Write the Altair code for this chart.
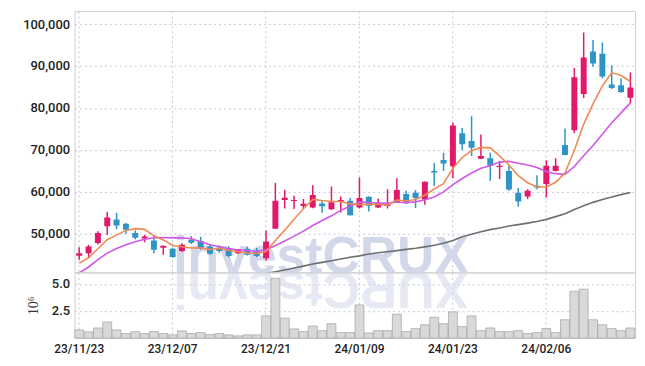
import altair as alt
import pandas as pd
import numpy as np

dates = ["23/11/23","23/11/24","23/11/27","23/11/28","23/11/29","23/11/30",
 "23/12/01","23/12/04","23/12/05","23/12/06","23/12/07",
 "23/12/08","23/12/11","23/12/12","23/12/13","23/12/14","23/12/15","23/12/18","23/12/19","23/12/20","23/12/21",
 "23/12/22","23/12/26","23/12/27","23/12/28","24/01/02","24/01/03","24/01/04","24/01/05","24/01/08","24/01/09",
 "24/01/10","24/01/11","24/01/12","24/01/15","24/01/16","24/01/17","24/01/18","24/01/19","24/01/22","24/01/23",
 "24/01/24","24/01/25","24/01/26","24/01/29","24/01/30","24/01/31","24/02/01","24/02/02","24/02/05","24/02/06",
 "24/02/07","24/02/08","24/02/13","24/02/14","24/02/15","24/02/16","24/02/19","24/02/20","24/02/21"]

tick_dates = ["23/11/23","23/12/07","23/12/21","24/01/09","24/01/23","24/02/06"]

opens = [44800,45400,47800,51800,53400,52400,50200,48900,48400,46700,
         46450,45900,48600,48300,47000,46700,46450,45400,46450,46050,
         44200,51200,58050,57800,56650,56300,57250,55850,57650,57900,
         56300,58850,56300,56650,57500,59500,59800,58200,65000,67600,
         66100,74000,72100,67900,68000,65950,65000,59800,58900,61450,
         61850,65000,71150,74700,83300,93450,92900,85600,85400,82450]
highs = [46800,47400,50600,55200,55000,52600,50800,49750,49600,47200,
         46700,47750,49500,49300,47600,47250,47050,46400,46900,46600,
         50800,62100,60500,59100,58300,61600,57900,61300,58900,58550,
         63400,58900,58450,60650,63250,60250,60450,62500,66900,69350,
         76450,75250,78050,73700,69350,67350,66200,60900,60650,63950,
         67550,68000,75100,89500,98000,96200,95600,90100,87100,88450]
lows = [43800,44450,47450,49700,51100,50000,48700,48000,45400,45000,
        44300,45700,47600,46200,45000,45500,44400,45200,44850,44450,
        43650,51200,56050,55900,55900,56100,55000,55700,55100,54350,
        56050,55350,56150,56050,57350,57100,56150,56950,61400,65000,
        63250,69900,68550,67850,62650,63050,60250,56450,58300,60650,
        58650,64850,68750,73950,82400,89800,87100,84500,83550,81200]
closes = [45400,47000,50200,53900,52000,51000,49050,49350,46200,47150,
          44450,47400,47850,46450,45250,45900,44700,46300,45000,44700,
          48200,57900,58600,58050,57200,59250,56550,57500,58050,54400,
          58550,56700,57350,57250,60450,57400,58550,62400,64600,66750,
          75850,71350,70500,68550,66200,66250,60550,57700,60250,61050,
          66200,66200,68800,87300,92000,90600,87500,84750,83800,84900]
ma5 = [43030,44300,46450,48600,49700,50820,51230,51060,49520,48550,
       47240,46910,46610,46660,46280,46570,46030,45720,45430,45320,
       45780,48420,50880,53490,55990,58200,57930,57710,57710,57150,
       57010,57040,57010,56850,58060,57830,58200,59210,60680,61940,
       65630,68190,69810,70600,70490,68570,66410,63850,62190,61160,
       61150,62280,64500,69910,76100,80980,85240,88430,87730,86310]
ma10 = [40700,42100,43850,45400,46500,47400,48100,48700,49050,49125,
        49030,49070,48835,48090,47415,46905,46470,46165,46045,45800,
        46175,47225,48300,49460,50655,51990,53175,54295,55600,56570,
        57605,57485,57360,57280,57605,57420,57620,58110,58765,60000,
        61730,63195,64510,65640,66215,67100,67300,66830,66395,65825,
        64860,64345,64175,66050,68630,71065,73760,76465,78820,81205]
ma60 = [None]*20 + [40600,40950,41400,41850,42300,42800,43200,43600,44000,44400,
        44750,45200,45500,45750,46000,46300,46550,46900,47300,47750,
        48400,49300,49900,50500,51000,51400,51850,52200,52550,52950,
        53450,54100,54800,55800,56700,57500,58200,58800,59350,59850]
volume = [0.75,0.57,0.93,1.48,0.75,0.41,0.59,0.41,0.59,0.41,
          0.29,0.66,0.41,0.50,0.32,0.41,0.29,0.20,0.29,0.29,
          2.05,5.52,1.84,0.84,0.59,1.11,0.68,1.32,0.50,0.50,
          3.06,0.47,0.68,0.68,2.21,0.59,0.87,1.23,1.93,1.32,
          2.42,1.05,2.05,0.68,0.93,0.59,0.59,0.68,0.41,0.50,
          0.87,0.50,1.69,4.33,4.52,1.69,1.23,0.87,0.68,0.93]

df = pd.DataFrame({"date": dates, "open": opens, "high": highs, "low": lows,
                   "close": closes, "ma5": ma5, "ma10": ma10,
                   "ma60": [np.nan if v is None else v for v in ma60], "vol": volume})
df["dir"] = np.where(df["close"] >= df["open"], "up", "down")

UP = "#e2186b"
DOWN = "#2e94c7"
GRID = "#c3c8da"
FONT = "Roboto"
WM = "#d2d7e9"

W = 564
xscale = alt.Scale(type="band", paddingInner=0, paddingOuter=0)
x_top = alt.X("date:O", sort=None, scale=xscale,
              axis=alt.Axis(values=tick_dates, labels=False, ticks=False, domain=False,
                            grid=True, gridDash=[2, 3], gridColor=GRID, bandPosition=0.5,
                            title=None, minExtent=0, maxExtent=0))
yscale = alt.Scale(domain=[40800, 103100], nice=False, zero=False)
y_axis = alt.Axis(values=[50000, 60000, 70000, 80000, 90000, 100000], format=",d",
                  ticks=False, domain=False, grid=True, gridDash=[2, 3], gridColor=GRID,
                  labelFont=FONT, labelFontSize=13, labelFontWeight=500,
                  labelColor="#222222", labelPadding=5,
                  minExtent=50, maxExtent=50, title=None)
color = alt.Color("dir:N", scale=alt.Scale(domain=["up", "down"], range=[UP, DOWN]), legend=None)

base = alt.Chart(df)

wm = alt.Chart(pd.DataFrame({"t": ["investCRUX"]})).mark_text(
    font="Liberation Sans", fontWeight="bold", fontSize=52, color=WM, clip=True,
    align="center", baseline="alphabetic").encode(
    x=alt.value(248), y=alt.value(264), text="t:N")

wicks = base.mark_rule(strokeWidth=1.5, clip=True).encode(
    x=x_top, y=alt.Y("low:Q", scale=yscale, axis=y_axis), y2="high:Q", color=color)
bodies = base.mark_bar(size=6, clip=True).encode(
    x=x_top, y=alt.Y("open:Q", scale=yscale), y2="close:Q", color=color)
l60 = base.transform_filter("isValid(datum.ma60)").mark_line(
    color="#6f6f6f", strokeWidth=1.6, clip=True).encode(x=x_top, y=alt.Y("ma60:Q", scale=yscale))
l10 = base.mark_line(color="#cf57ea", strokeWidth=1.6, clip=True).encode(
    x=x_top, y=alt.Y("ma10:Q", scale=yscale))
l5 = base.mark_line(color="#f08a52", strokeWidth=1.6, clip=True).encode(
    x=x_top, y=alt.Y("ma5:Q", scale=yscale))

top = alt.layer(wm, wicks, bodies, l60, l10, l5).properties(width=W, height=263)

x_bot = alt.X("date:O", sort=None, scale=xscale,
              axis=alt.Axis(values=tick_dates, labelAngle=0, ticks=False, domain=False,
                            grid=True, gridDash=[2, 3], gridColor=GRID, bandPosition=0.5,
                            labelFont=FONT, labelFontSize=12, labelFontWeight=500,
                            labelColor="#222222", labelPadding=6, title=None))
vy = alt.Y("vol:Q", scale=alt.Scale(domain=[0, 6.07], nice=False),
           axis=alt.Axis(values=[2.5, 5.0], format=".1f", ticks=False, domain=False,
                         grid=True, gridDash=[2, 3], gridColor=GRID,
                         labelFont=FONT, labelFontSize=13, labelFontWeight=500,
                         labelColor="#222222", labelPadding=5,
                         minExtent=22, maxExtent=22, title="10⁶", titleFont="Liberation Serif",
                         titleFontWeight="normal", titleFontSize=14, titleColor="#333333",
                         titlePadding=12, titleY=33))

refl = alt.Chart(pd.DataFrame({"t": ["XURCtsevni"]})).mark_text(
    font="Liberation Sans", fontWeight="bold", fontSize=52, color=WM, opacity=0.55,
    clip=True, align="center", baseline="alphabetic", angle=180).encode(
    x=alt.value(248), y=alt.value(0), text="t:N")
vbars = base.mark_bar(color="#d9d9d9", stroke="#a9a9a9", strokeWidth=0.8,
                      width=alt.RelativeBandSize(0.95)).encode(x=x_bot, y=vy)

bottom = alt.layer(refl, vbars).properties(width=W, height=66)

chart = alt.vconcat(top, bottom, spacing=0, bounds="flush").properties(
    padding={"left": 22, "top": 9, "right": 9, "bottom": 5},
    background="white"
).configure_view(stroke="#cfcfcf")

chart.save("out.html", embed_options={"renderer": "svg", "actions": False})
